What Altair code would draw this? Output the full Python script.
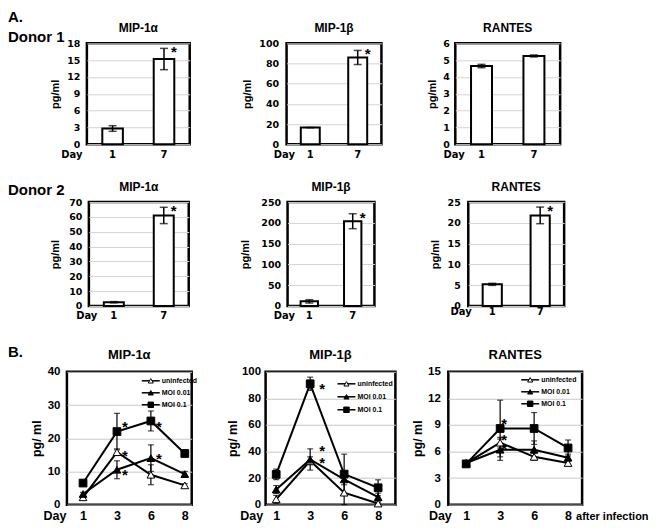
import altair as alt
import pandas as pd

SANS = "Liberation Sans"
WIDE = "DejaVu Sans"

# ---------------- Panel A: bar charts ----------------
bar_days = ["1", "7"]
d1_mip1a = [2.8, 15.2]
d1_mip1a_err = [0.5, 1.9]
d1_mip1b = [16.5, 86.0]
d1_mip1b_err = [0.0, 7.0]
d1_rantes = [4.65, 5.25]
d1_rantes_err = [0.1, 0.06]
d1_stars = [[False, True], [False, True], [False, False]]

d2_mip1a = [2.5, 61.0]
d2_mip1a_err = [0.4, 5.5]
d2_mip1b = [11.0, 204.0]
d2_mip1b_err = [4.0, 18.0]
d2_rantes = [5.2, 21.8]
d2_rantes_err = [0.25, 2.0]
d2_stars = [[False, True], [False, True], [False, True]]

# ---------------- Panel B: time courses ----------------
line_days = [1, 3, 6, 8]
series_names = ["uninfected", "MOI 0.01", "MOI 0.1"]
series_shapes = ["triangle-up", "triangle-up", "square"]
series_fills = ["white", "black", "black"]

b_mip1a_uninf = [2.2, 15.8, 9.0, 5.8]
b_mip1a_uninf_err = [0.5, 1.0, 3.0, 0.5]
b_mip1a_moi001 = [3.2, 10.5, 14.0, 9.2]
b_mip1a_moi001_err = [0.5, 2.7, 4.0, 0.8]
b_mip1a_moi01 = [6.5, 22.0, 25.2, 15.4]
b_mip1a_moi01_err = [0.6, 5.5, 3.0, 0.8]
b_mip1a_star_day = [3, 6, 3, 3, 6]
b_mip1a_star_val = [24.6, 24.6, 15.8, 10.0, 14.9]

b_mip1b_uninf = [4.0, 33.0, 9.0, 0.8]
b_mip1b_uninf_err = [3.0, 3.0, 9.0, 0.6]
b_mip1b_moi001 = [11.4, 34.0, 19.0, 5.6]
b_mip1b_moi001_err = [3.0, 8.0, 4.0, 3.0]
b_mip1b_moi01 = [22.8, 91.0, 23.0, 12.7]
b_mip1b_moi01_err = [4.0, 5.0, 15.0, 6.0]
b_mip1b_star_day = [3, 3, 3]
b_mip1b_star_val = [90.0, 43.5, 34.4]

b_rantes_uninf = [4.7, 7.0, 5.4, 4.7]
b_rantes_uninf_err = [0.2, 0.6, 0.4, 0.3]
b_rantes_moi001 = [4.7, 6.2, 6.2, 5.3]
b_rantes_moi001_err = [0.2, 1.2, 1.0, 0.4]
b_rantes_moi01 = [4.6, 8.6, 8.6, 6.4]
b_rantes_moi01_err = [0.2, 3.2, 1.8, 0.9]
b_rantes_star_day = [3, 3, 3]
b_rantes_star_val = [9.55, 7.7, 6.7]

FRAME = alt.ViewBackground(stroke="black", strokeWidth=2.5)
NOFRAME = alt.ViewBackground(strokeOpacity=0)


def note(text, xpx, ypx, size=15):
    return alt.Chart(pd.DataFrame({"t": [text]})).mark_text(
        align="left", baseline="top", font=SANS, fontSize=size, fontWeight="bold", color="black"
    ).encode(text="t:N", x=alt.value(xpx), y=alt.value(ypx))


def spacer(w, h=1):
    return alt.Chart(pd.DataFrame({"a": [0]})).mark_point(opacity=0).properties(
        width=w, height=h, view=NOFRAME)


def label_cell(top, bottom, *notes):
    # invisible box that fixes how far the row reaches above / below its plot area
    box = alt.Chart(pd.DataFrame({"a": [0]})).mark_rect(opacity=0).encode(
        x=alt.value(0), x2=alt.value(1), y=alt.value(-top), y2=alt.value(bottom))
    return alt.layer(box, *notes).properties(width=1, height=1, view=NOFRAME)


def bar_panel(title, vals, errs, stars, ymax, ystep, w, h, ylab_pad, ytitle_pad,
              day_x, xlab_pad, title_off):
    df = pd.DataFrame({"day": bar_days, "value": vals, "err": errs, "star": stars})
    df["lo"] = df["value"] - df["err"]
    df["hi"] = df["value"] + df["err"]
    xax = alt.Axis(title="Day", labelAngle=0, ticks=False, domain=False, grid=False,
                   labelPadding=xlab_pad, labelFont=WIDE, labelFontSize=10, labelFontWeight="bold",
                   labelColor="black", titleAngle=0, titleAlign="right", titleBaseline="top",
                   titleX=day_x, titleY=xlab_pad, titleFont=WIDE, titleFontSize=10,
                   titleFontWeight="bold", titleColor="black")
    x = alt.X("day:N", scale=alt.Scale(domain=bar_days, paddingInner=0.6, paddingOuter=0.3), axis=xax)
    yax = alt.Axis(title="pg/ml", values=list(range(0, ymax + 1, ystep)), ticks=False, domain=False,
                   grid=True, gridColor="#d4d4d4", gridWidth=1, labelPadding=ylab_pad,
                   labelFont=WIDE, labelFontSize=9.5, labelFontWeight="bold", labelColor="black",
                   titlePadding=ytitle_pad, titleFont=SANS, titleFontSize=11, titleFontWeight="bold",
                   titleColor="black")
    ysc = alt.Scale(domain=[0, ymax], nice=False)

    def Y(f):
        return alt.Y(f"{f}:Q", scale=ysc, axis=yax)

    base = alt.Chart(df)
    bars = base.mark_bar(fill="white", stroke="black", strokeWidth=2).encode(x=x, y=Y("value"))
    rule = base.mark_rule(color="black", strokeWidth=1.5).encode(x=x, y=Y("lo"), y2="hi:Q")
    cap_hi = base.mark_tick(color="black", thickness=1.5, size=8).encode(x=x, y=Y("hi"))
    cap_lo = base.mark_tick(color="black", thickness=1.5, size=8).encode(x=x, y=Y("lo"))
    star = base.transform_filter("datum.star").mark_text(
        text="*", fontSize=15, font=SANS, fontWeight="bold", dx=10, dy=4, baseline="middle", color="black"
    ).encode(x=x, y=Y("hi"))
    return alt.layer(bars, rule, cap_hi, cap_lo, star).properties(
        width=w, height=h, view=FRAME,
        title=alt.TitleParams(title, font=SANS, fontSize=12, fontWeight="bold", color="black",
                              offset=title_off, frame="group"))


def line_panel(title, vals_list, errs_list, star_days, star_vals, star_dx, ymax, ystep, w, h,
               pt_pad, pt_align, ylab_pad, ytitle_pad, day_x, leg_x, leg_y0, leg_step, after=False):
    rows = []
    for s, vals, errs in zip(series_names, vals_list, errs_list):
        for d, v, e in zip(line_days, vals, errs):
            rows.append({"day": d, "series": s, "value": v, "lo": v - e, "hi": v + e})
    df = pd.DataFrame(rows)
    sdf = pd.DataFrame({"day": star_days, "value": star_vals})
    ldf = pd.DataFrame({"series": series_names})
    xlab_pad = 5
    xax = alt.Axis(title="Day", labelAngle=0, ticks=False, domain=False, grid=False,
                   labelPadding=xlab_pad, labelFont=SANS, labelFontSize=12.5, labelFontWeight="bold",
                   labelColor="black", titleAngle=0, titleAlign="right", titleBaseline="top",
                   titleX=day_x, titleY=xlab_pad, titleFont=SANS, titleFontSize=12.5,
                   titleFontWeight="bold", titleColor="black")
    x = alt.X("day:O", scale=alt.Scale(type="point", domain=line_days, padding=pt_pad, align=pt_align),
              axis=xax)
    yax = alt.Axis(title="pg/ ml", values=list(range(0, ymax + 1, ystep)), ticks=False, domain=False,
                   grid=True, gridColor="#c8c8c8", gridWidth=1, labelPadding=ylab_pad,
                   labelFont=SANS, labelFontSize=11.5, labelFontWeight="bold", labelColor="black",
                   titlePadding=ytitle_pad, titleFont=SANS, titleFontSize=12.5, titleFontWeight="bold",
                   titleColor="black")

    def Y(f, with_axis=False):
        return alt.Y(f"{f}:Q", scale=alt.Scale(domain=[0, ymax], nice=False),
                     axis=yax if with_axis else None)

    base = alt.Chart(df)
    lines = base.mark_line(color="black", strokeWidth=2).encode(
        x=x, y=Y("value", True), detail="series:N")
    rule = base.mark_rule(color="black", strokeWidth=1.2).encode(x=x, y=Y("lo"), y2="hi:Q")
    cap_hi = base.mark_tick(color="black", thickness=1.2, size=6).encode(x=x, y=Y("hi"))
    cap_lo = base.mark_tick(color="black", thickness=1.2, size=6).encode(x=x, y=Y("lo"))
    pts = []
    for s, shp, fl in zip(series_names, series_shapes, series_fills):
        pts.append(base.transform_filter(alt.datum.series == s).mark_point(
            shape=shp, filled=True, fill=fl, stroke="black", strokeWidth=1, size=60, opacity=1
        ).encode(x=x, y=Y("value")))
    stars = alt.Chart(sdf).mark_text(text="*", fontSize=15, font=SANS, fontWeight="bold", dx=star_dx, dy=4,
                                     baseline="middle", color="black").encode(x=x, y=Y("value"))

    # legend drawn inside the plot, one row per series on its own point scale
    ly = alt.Y("series:N", sort=series_names,
               scale=alt.Scale(type="point", domain=series_names, padding=0,
                               range=[leg_y0, leg_y0 + 2 * leg_step]), axis=None)
    lbase = alt.Chart(ldf)
    leg_line = lbase.mark_rule(color="black", strokeWidth=1.5).encode(
        x=alt.value(leg_x), x2=alt.value(leg_x + 18), y=ly)
    leg_pts = []
    for s, shp, fl, sz in zip(series_names, series_shapes, series_fills, [26, 26, 30]):
        leg_pts.append(lbase.transform_filter(alt.datum.series == s).mark_point(
            shape=shp, filled=True, fill=fl, stroke="black", strokeWidth=1, size=sz, opacity=1
        ).encode(x=alt.value(leg_x + 9), y=ly))
    leg_txt = lbase.mark_text(align="left", baseline="middle", font=SANS, fontSize=7, fontWeight="bold",
                              color="black").encode(x=alt.value(leg_x + 20), y=ly, text="series:N")

    layers = [lines, rule, cap_hi, cap_lo] + pts + [stars, leg_line] + leg_pts + [leg_txt]
    if after:
        ai = alt.Chart(pd.DataFrame({"day": [8], "t": ["after infection"]})).mark_text(
            align="left", baseline="top", dx=8, font=SANS, fontSize=11, fontWeight="bold", color="black"
        ).encode(x=x, y=alt.value(h + xlab_pad + 1), text="t:N")
        layers.append(ai)
    return alt.layer(*layers).resolve_scale(y="independent").properties(
        width=w, height=h, view=FRAME,
        title=alt.TitleParams(title, font=SANS, fontSize=13, fontWeight="bold", color="black", offset=4,
                              frame="group"))


# Row 1 (Donor 1)
r1p1 = bar_panel("MIP-1α", d1_mip1a, d1_mip1a_err, d1_stars[0], 18, 3, 103, 101, 7, 6.3, -5, 5, 3)
r1p2 = bar_panel("MIP-1β", d1_mip1b, d1_mip1b_err, d1_stars[1], 100, 20, 95, 101, 8, 6.7, 8, 5, 3)
r1p3 = bar_panel("RANTES", d1_rantes, d1_rantes_err, d1_stars[2], 6, 1, 105, 101, 6, 5, 9, 5, 3)

# Row 2 (Donor 2)
r2p1 = bar_panel("MIP-1α", d2_mip1a, d2_mip1a_err, d2_stars[0], 70, 10, 100, 104, 7, 8.3, 8, 5, 3)
r2p2 = bar_panel("MIP-1β", d2_mip1b, d2_mip1b_err, d2_stars[1], 250, 50, 87, 104, 7, 10.7, 7, 5, 3)
r2p3 = bar_panel("RANTES", d2_rantes, d2_rantes_err, d2_stars[2], 25, 5, 96, 104, 8, 6.3, 3, 1, 3)

# Row 3 (B)
r3p1 = line_panel("MIP-1α", [b_mip1a_uninf, b_mip1a_moi001, b_mip1a_moi01],
                  [b_mip1a_uninf_err, b_mip1a_moi001_err, b_mip1a_moi01_err],
                  b_mip1a_star_day, b_mip1a_star_val, 8, 40, 10, 125, 133, 0.34, 0.7, 7, 4, -1,
                  75, 9, 12)
r3p2 = line_panel("MIP-1β", [b_mip1b_uninf, b_mip1b_moi001, b_mip1b_moi01],
                  [b_mip1b_uninf_err, b_mip1b_moi001_err, b_mip1b_moi01_err],
                  b_mip1b_star_day, b_mip1b_star_val, 12, 100, 20, 130, 133, 0.41, 0.38, 5, 2, -3,
                  72, 12, 13)
r3p3 = line_panel("RANTES", [b_rantes_uninf, b_rantes_moi001, b_rantes_moi01],
                  [b_rantes_uninf_err, b_rantes_moi001_err, b_rantes_moi01_err],
                  b_rantes_star_day, b_rantes_star_val, 4, 15, 3, 134, 133, 0.47, 0.56, 8, 3, 3,
                  73, 8, 12, after=True)

lab1 = label_cell(35, 125, note("A.", -58, -33), note("Donor 1", -58, -13))
lab2 = label_cell(34, 128, note("Donor 2", -58, -19))
lab3 = label_cell(42, 10, note("B.", -58, -27))

row1 = alt.hconcat(lab1, spacer(20), r1p1, spacer(97), r1p2, spacer(74), r1p3, spacing=0, bounds="flush")
row2 = alt.hconcat(lab2, spacer(22), r2p1, spacer(99), r2p2, spacer(94), r2p3, spacing=0, bounds="flush")
row3 = alt.hconcat(lab3, r3p1, spacer(74), r3p2, spacer(53), r3p3, spacing=0, bounds="flush")

chart = alt.vconcat(row1, row2, row3, spacing=0).properties(
    padding={"left": 0, "top": 0, "right": 0, "bottom": 0}
).configure_view(stroke="black", strokeWidth=2.5)

chart.save("out.html", embed_options={"renderer": "svg", "actions": False})
